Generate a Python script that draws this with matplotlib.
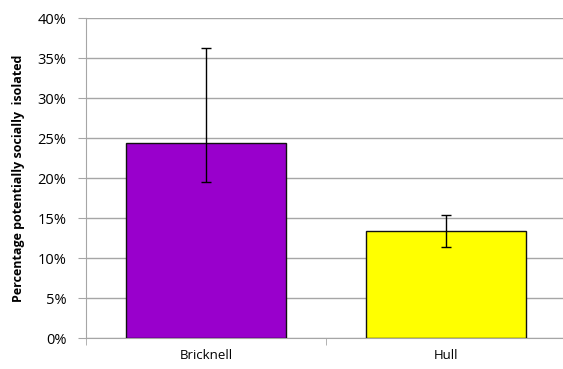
import numpy as np
import matplotlib.pyplot as plt
from matplotlib.ticker import PercentFormatter, FixedLocator

plt.rcParams['font.family'] = ['Open Sans', 'DejaVu Sans']

areas = ['Bricknell', 'Hull']
values = [24.4, 13.4]
err_low = [19.5, 11.4]
err_high = [36.3, 15.4]
colors = ['#9900cc', '#ffff00']
yticks = [0, 5, 10, 15, 20, 25, 30, 35, 40]

fig = plt.figure(figsize=(5.63, 3.69), dpi=100)
ax = fig.add_axes([86/563, 1-338/369, 480/563, 320/369])

x = np.arange(len(areas))
yerr = [np.array(values) - np.array(err_low), np.array(err_high) - np.array(values)]
ax.bar(x, values, width=0.667, color=colors, edgecolor='#111111', linewidth=1.0, zorder=3)
ax.errorbar(x, values, yerr=yerr, fmt='none', ecolor='black', elinewidth=1.0,
            capsize=3.5, capthick=1.0, zorder=4)

ax.set_xlim(-0.5, 1.5)
ax.set_ylim(0, 40)
ax.set_yticks(yticks)
ax.yaxis.set_major_formatter(PercentFormatter(decimals=0))
ax.grid(axis='y', color='#a6a6a6', linewidth=1.0, zorder=0)

ax.set_xticks(x)
ax.set_xticklabels(areas, fontsize=9.5)
ax.tick_params(axis='x', length=0, pad=8)
ax.xaxis.set_minor_locator(FixedLocator([-0.5, 0.5, 1.5]))
ax.tick_params(axis='x', which='minor', length=5, color='#a6a6a6')
ax.tick_params(axis='y', length=6, color='#a6a6a6', labelsize=10.5, pad=8)

for s in ['top', 'right']:
    ax.spines[s].set_visible(False)
ax.spines['left'].set_color('#a6a6a6')
ax.spines['bottom'].set_color('#a6a6a6')

ax.set_ylabel('Percentage potentially socially  isolated', fontsize=9, fontweight='bold', labelpad=9)

fig.savefig('out.png', dpi=100)
